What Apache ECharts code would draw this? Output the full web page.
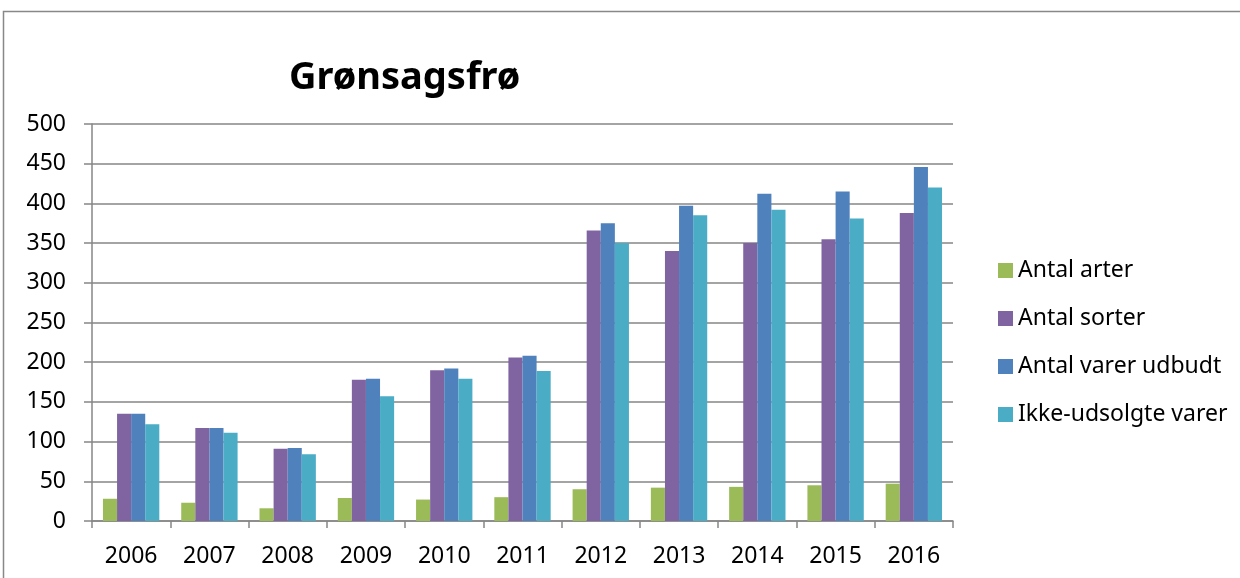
<!DOCTYPE html>
<html>
<head>
  <meta charset="utf-8">
  <title>Grønsagsfrø</title>
  <script src="https://fastly.jsdelivr.net/npm/echarts@6/dist/echarts.min.js"></script>
</head>
<body style="margin:0;background:#fff">
<div id="main" style="width:1240px;height:578px;"></div>
<script type="text/javascript">
  // data
  var years = ['2006','2007','2008','2009','2010','2011','2012','2013','2014','2015','2016'];
  var arter = [28, 23, 16, 29, 27, 30, 40, 42, 43, 45, 47];
  var sorter = [135, 117, 91, 178, 190, 206, 366, 340, 350, 355, 388];
  var varerUdbudt = [135, 117, 92, 179, 192, 208, 375, 397, 412, 415, 446];
  var ikkeUdsolgte = [122, 111, 84, 157, 179, 189, 350, 385, 392, 381, 420];
  var seriesNames = ['Antal arter', 'Antal sorter', 'Antal varer udbudt', 'Ikke-udsolgte varer'];
  var colors = ['#9BBB59', '#8064A2', '#4F81BD', '#4BACC6'];

  var font = 'Noto Sans';
  var myChart = echarts.init(document.getElementById('main'));

  var allData = [arter, sorter, varerUdbudt, ikkeUdsolgte];
  var series = allData.map(function (d, i) {
    return {
      name: seriesNames[i],
      type: 'bar',
      data: d,
      barGap: '0%',
      barCategoryGap: '28%',
      itemStyle: { color: colors[i] }
    };
  });

  var option = {
    animation: false,
    color: colors,
    title: {
      text: 'Grønsagsfrø',
      left: 284,
      top: 54,
      textStyle: { fontFamily: font, fontSize: 38, fontWeight: 'bold', color: '#000' }
    },
    graphic: [{
      type: 'rect',
      shape: { x: 3.5, y: 11.5, width: 1300, height: 700 },
      style: { fill: null, stroke: '#888', lineWidth: 1.5 },
      silent: true
    }],
    legend: {
      orient: 'vertical',
      left: 993,
      top: 254,
      itemWidth: 15,
      itemHeight: 15,
      itemGap: 25,
      icon: 'rect',
      textStyle: { fontFamily: font, fontSize: 23, color: '#000' },
      data: seriesNames
    },
    grid: { left: 92, right: 287, top: 124, bottom: 57 },
    xAxis: {
      type: 'category',
      data: years,
      axisLine: { lineStyle: { color: '#868686', width: 1.5 } },
      axisTick: { show: true, length: 7, lineStyle: { color: '#868686', width: 1.5 } },
      axisLabel: { fontFamily: font, fontSize: 23, color: '#000', margin: 24 }
    },
    yAxis: {
      type: 'value',
      min: 0,
      max: 500,
      interval: 50,
      axisLine: { show: true, lineStyle: { color: '#868686', width: 1.5 } },
      axisTick: { show: true, length: 8, lineStyle: { color: '#868686', width: 1.5 } },
      splitLine: { lineStyle: { color: '#868686', width: 1.5 } },
      axisLabel: { fontFamily: font, fontSize: 23, color: '#000', margin: 26 }
    },
    series: series
  };

  myChart.setOption(option);
</script>
</body>
</html>
